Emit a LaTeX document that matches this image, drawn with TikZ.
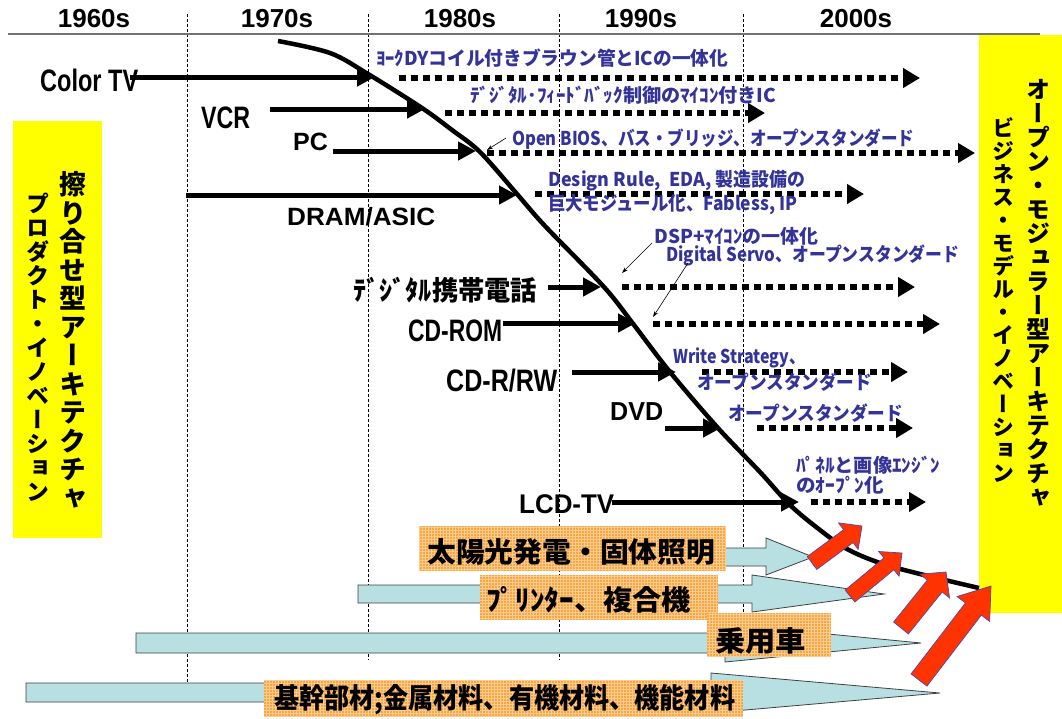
\documentclass[tikz,border=0pt]{standalone}
\usepackage{fontspec}
\usepackage{graphicx}
\setmainfont{Liberation Sans}
\newfontfamily\jp{Noto Sans CJK JP}
\newfontfamily\jpv{Noto Sans CJK JP}[RawFeature=+vert]
\usetikzlibrary{arrows.meta,calc}
\definecolor{txtblue}{RGB}{51,51,153}
\definecolor{ybox}{RGB}{255,255,0}
\definecolor{obox}{RGB}{247,166,70}
\definecolor{ogrid}{RGB}{252,204,140}
\definecolor{lblue}{RGB}{184,224,226}
\definecolor{redarr}{RGB}{255,51,0}
\definecolor{redline}{RGB}{80,70,170}
\newcommand{\fitw}[2]{\resizebox{#1pt}{\height}{#2}}
\newcommand{\redblock}[5]{%
  \coordinate (rbA) at #1; \coordinate (rbB) at #2;
  \coordinate (rbC) at ($(rbB)!#5pt!(rbA)$);
  \draw[redarrow] ($(rbA)!#3pt!90:(rbB)$) -- ($(rbC)!#3pt!90:(rbB)$) -- ($(rbC)!#4pt!90:(rbB)$) -- (rbB)
    -- ($(rbC)!#4pt!-90:(rbB)$) -- ($(rbC)!#3pt!-90:(rbB)$) -- ($(rbA)!#3pt!-90:(rbB)$) -- cycle;}
\begin{document}
\begin{tikzpicture}[x=1pt,y=-1pt,
  year/.style={font=\fontsize{26}{28}\selectfont\bfseries, inner sep=0},
  lab/.style={font=\fontsize{31}{33}\selectfont\bfseries, inner sep=0, anchor=west},
  jlab/.style={font={\jp\bfseries\fontsize{27}{29}\selectfont}, inner sep=0, anchor=west},
  blu/.style={font={\jp\bfseries\fontsize{19}{21}\selectfont}, text=txtblue, inner sep=0, anchor=west},
  big/.style={font={\jp\bfseries\fontsize{28}{30}\selectfont}, inner sep=0, anchor=west},
  solidarr/.style={line width=5pt, -{Triangle[length=18pt,width=18pt]}},
  dotarr/.style={line width=6.5pt, dash pattern=on 7pt off 5pt, -{Triangle[length=17pt,width=19pt]}},
  thinarr/.style={line width=0.6pt, -{Stealth[length=6pt,width=4pt]}},
  vline/.style={dash pattern=on 3pt off 2pt, line width=0.6pt},
  bluearr/.style={fill=lblue, draw=black!75, line width=0.8pt},
  redarrow/.style={fill=redarr, draw=redline, line width=0.7pt},
  orangebox/.style={fill=obox, inner sep=0, path picture={\draw[ogrid, line width=0.5pt, step=3pt] (path picture bounding box.south west) grid (path picture bounding box.north east);}},
  ylbox/.style={fill=ybox, inner sep=0},
  vtext/.style={align=center, inner sep=0}
]
\useasboundingbox (0,0) rectangle (1062,718);
\fill[white] (0,0) rectangle (1062,718);

% vertical dashed lines and header line
\draw[vline] (187,14) -- (187,683);
\draw[vline] (368,14) -- (368,660);
\draw[vline] (559,14) -- (559,660);
\draw[vline] (743,14) -- (743,660);
\draw[black!55, line width=1.5pt] (8,34) -- (1040,34);

% years
\node[year] (y60) at (94,19) {1960s};
\node[year] (y70) at (277,19) {1970s};
\node[year] (y80) at (460,19) {1980s};
\node[year] (y90) at (641,19) {1990s};
\node[year] (y00) at (856,19) {2000s};

% yellow boxes
\node[ylbox, minimum width=89pt, minimum height=417pt] (lbox) at (57.5,329.5) {};
\node[ylbox, minimum width=83pt, minimum height=578pt] (rbox) at (1020.5,324) {};
\node[vtext, font={\jpv\bfseries\fontsize{27}{28.5}\selectfont}] (lcol1) at (73,340) {擦\\り\\合\\せ\\型\\ア\\ー\\キ\\テ\\ク\\チ\\ャ};
\node[vtext, font={\jpv\bfseries\fontsize{23}{24}\selectfont}] (lcol2) at (38,347) {プ\\ロ\\ダ\\ク\\ト\\・\\イ\\ノ\\ベ\\ー\\シ\\ョ\\ン};
\node[vtext, font={\jpv\bfseries\fontsize{24}{24}\selectfont}] (rcol1) at (1038,293) {オ\\ー\\プ\\ン\\・\\モ\\ジ\\ュ\\ラ\\ー\\型\\ア\\ー\\キ\\テ\\ク\\チ\\ャ};
\node[vtext, font={\jpv\bfseries\fontsize{22}{23}\selectfont}] (rcol2) at (1003,300) {ビ\\ジ\\ネ\\ス\\・\\モ\\デ\\ル\\・\\イ\\ノ\\ベ\\ー\\シ\\ョ\\ン};

% bottom light-blue arrows and orange boxes
\draw[bluearr] (600,548) -- (766,548) -- (766,538) -- (813,557) -- (766,575) -- (766,566) -- (600,566) -- cycle;
\draw[bluearr] (358,585) -- (752,585) -- (752,575) -- (884,594) -- (752,612) -- (752,603) -- (358,603) -- cycle;
\draw[bluearr] (136,633) -- (725,633) -- (725,624) -- (921,643) -- (725,662) -- (725,653) -- (136,653) -- cycle;
\draw[bluearr] (26,683) -- (711,683) -- (711,673) -- (940,693) -- (711,713) -- (711,702) -- (26,702) -- cycle;

\node[orangebox, minimum width=307pt, minimum height=45pt] (solarbox) at (572.5,548.5) {};
\node[orangebox, minimum width=238pt, minimum height=45pt] (printbox) at (599,597.5) {};
\node[orangebox, minimum width=124pt, minimum height=44pt] (carbox) at (769,635) {};
\node[orangebox, minimum width=479pt, minimum height=37pt] (matbox) at (503.5,698.5) {};
\node[big] (solar) at (427,552) {\fitw{288}{太陽光発電・固体照明}};
\node[big] (printer) at (486,600) {\fitw{205}{ﾌﾟﾘﾝﾀｰ、複合機}};
\node[big] (car) at (715,641) {\fitw{91}{乗用車}};
\node[big] (mat) at (274,700) {\fitw{461}{基幹部材;金属材料、有機材料、機能材料}};

% main curve
\draw[line width=4.5pt] plot[smooth, tension=0.55] coordinates {(278,41) (330,53) (368,74) (422,108) (452,130) (480,152) (517,194) (545,226) (604,287) (634,325) (670,372) (718,428) (760,472) (790,505) (820,530) (847,549) (880,563) (920,574) (979,588)};

% labels
\node[lab] (ctv) at (40,80.5) {\fitw{98}{Color TV}};
\node[lab] (vcr) at (201,117.5) {\fitw{49}{VCR}};
\node[lab, font=\fontsize{25}{27}\selectfont\bfseries] (pc) at (293,142) {PC};
\node[lab, font=\fontsize{25}{27}\selectfont\bfseries] (dram) at (287,217) {\fitw{148}{DRAM/ASIC}};
\node[jlab] (dmob) at (353,290) {\fitw{184}{ﾃﾞｼﾞﾀﾙ携帯電話}};
\node[lab] (cdrom) at (408,331) {\fitw{94}{CD-ROM}};
\node[lab] (cdrw) at (446,381) {\fitw{111}{CD-R/RW}};
\node[lab, font=\fontsize{26}{28}\selectfont\bfseries] (dvd) at (610,412) {\fitw{53}{DVD}};
\node[lab, font=\fontsize{27}{29}\selectfont\bfseries] (lcd) at (519,504) {\fitw{95}{LCD-TV}};

% solid arrows
\coordinate (a1s) at (130,77);  \coordinate (a1e) at (375,77);
\coordinate (a2s) at (270,109); \coordinate (a2e) at (425,109);
\coordinate (a3s) at (333,151); \coordinate (a3e) at (476,151);
\coordinate (a4s) at (186,195); \coordinate (a4e) at (517,195);
\coordinate (a5s) at (548,287); \coordinate (a5e) at (601,287);
\coordinate (a6s) at (503,323); \coordinate (a6e) at (636,323);
\coordinate (a7s) at (572,372); \coordinate (a7e) at (676,372);
\coordinate (a8s) at (665,428); \coordinate (a8e) at (721,428);
\coordinate (a9s) at (612,502); \coordinate (a9e) at (799,502);
\foreach \i in {1,...,9} {\draw[solidarr] (a\i s) -- (a\i e);}

% dotted arrows
\coordinate (d1s) at (399,78);  \coordinate (d1e) at (920,78);
\coordinate (d2s) at (445,113); \coordinate (d2e) at (765,113);
\coordinate (d3s) at (487,153); \coordinate (d3e) at (975,153);
\coordinate (d4s) at (535,194); \coordinate (d4e) at (864,194);
\coordinate (d5s) at (622,287); \coordinate (d5e) at (915,287);
\coordinate (d6s) at (653,324); \coordinate (d6e) at (940,324);
\coordinate (d7s) at (702,372); \coordinate (d7e) at (908,372);
\coordinate (d8s) at (757,428); \coordinate (d8e) at (913,428);
\coordinate (d9s) at (811,502); \coordinate (d9e) at (926,502);
\foreach \i in {1,...,9} {\draw[dotarr] (d\i s) -- (d\i e);}

% blue texts
\node[blu] (t1) at (376,58) {\fitw{352}{ﾖｰｸDYコイル付きブラウン管とICの一体化}};
\node[blu] (t2) at (470,95) {\fitw{306}{ﾃﾞｼﾞﾀﾙ･ﾌｨｰﾄﾞﾊﾞｯｸ制御のﾏｲｺﾝ付きIC}};
\node[blu] (t3) at (512,139) {\fitw{402}{Open BIOS、バス・ブリッジ、オープンスタンダード}};
\node[blu] (t4a) at (548,181) {\fitw{257}{Design Rule,\ \ EDA, 製造設備の}};
\node[blu] (t4b) at (548,205) {\fitw{249}{巨大モジュール化、Fabless, IP}};
\node[blu] (t5) at (654,236) {\fitw{164}{DSP+ﾏｲｺﾝの一体化}};
\node[blu] (t6) at (666,255) {\fitw{293}{Digital Servo、オープンスタンダード}};
\node[blu] (t7) at (673,358) {\fitw{132}{Write Strategy、}};
\node[blu] (t8) at (697,382) {\fitw{175}{オープンスタンダード}};
\node[blu] (t9) at (728,413) {\fitw{175}{オープンスタンダード}};
\node[blu] (t10) at (796,465) {\fitw{144}{ﾊﾟﾈﾙと画像ｴﾝｼﾞﾝ}};
\node[blu] (t11) at (796,485) {\fitw{88}{のｵｰﾌﾟﾝ化}};

% thin pointer arrows
\coordinate (p1s) at (506,138); \coordinate (p1e) at (487,150);
\coordinate (p2s) at (652,243); \coordinate (p2e) at (622,273);
\coordinate (p3s) at (688,263); \coordinate (p3e) at (653,317);
\draw[thinarr] (p1s) -- (p1e);
\draw[thinarr] (p2s) -- (p2e);
\draw[thinarr] (p3s) -- (p3e);

% red arrows
\redblock{(812,563)}{(862,526)}{8}{16.5}{17}
\redblock{(850,596)}{(902,553)}{7.7}{16}{17}
\redblock{(901,628)}{(946,572)}{9.5}{19}{18}
\redblock{(919,680)}{(991,586)}{10}{20.5}{29}
\end{tikzpicture}
\end{document}
